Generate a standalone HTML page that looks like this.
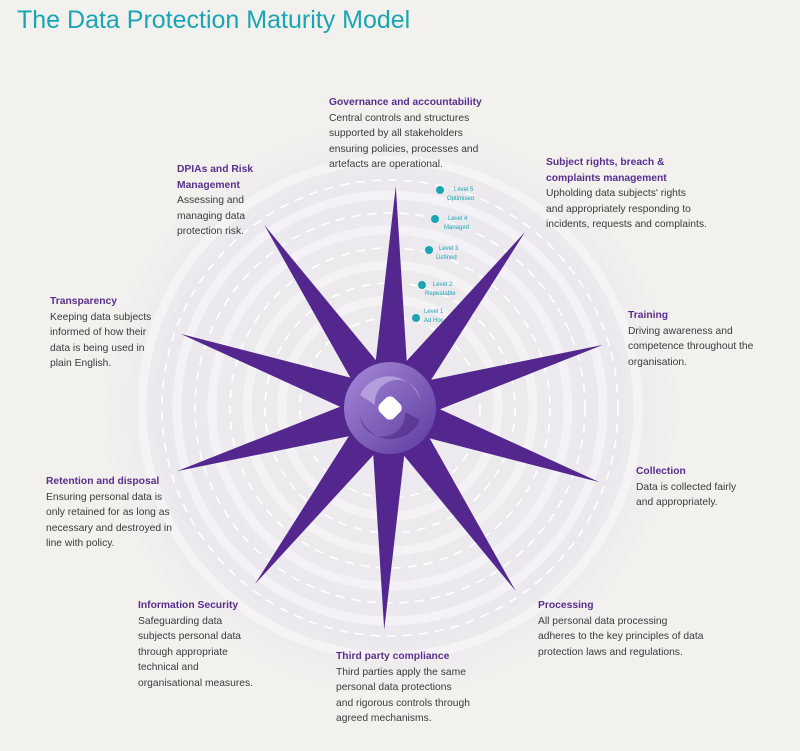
<!DOCTYPE html>
<html><head><meta charset="utf-8"><style>
body{margin:0;width:800px;height:751px;background:#f2f1ee;overflow:hidden;position:relative;font-family:"Liberation Sans",sans-serif}
h1{position:absolute;left:17px;top:6px;margin:0;font-size:25px;font-weight:normal;color:#1aa5b2;letter-spacing:0}
.t{position:absolute;font-size:10.3px;line-height:15.5px;color:#3b3b3b;white-space:nowrap}
.t b{color:#5a2e8c;display:block}
svg{position:absolute;left:0;top:0}
.lv{font-size:6px;fill:#1aa5b2}
</style></head><body>
<svg width="800" height="751" viewBox="0 0 800 751">
<defs>
<radialGradient id="g" cx="390" cy="408" r="290" gradientUnits="userSpaceOnUse">
<stop offset="0" stop-color="#eeebef"/><stop offset="0.8" stop-color="#ece9ee"/><stop offset="1" stop-color="#f2f1ee"/>
</radialGradient>
<linearGradient id="c" x1="0" y1="0" x2="1" y2="1"><stop offset="0" stop-color="#a58ad8"/><stop offset="1" stop-color="#5c3a9e"/></linearGradient>
</defs>
<circle cx="390" cy="408" r="285" fill="url(#g)"/>
<g fill="none" stroke="#f7f5f8" stroke-width="9" opacity="0.8">
<circle cx="390" cy="408" r="108"/><circle cx="390" cy="408" r="143"/><circle cx="390" cy="408" r="178"/><circle cx="390" cy="408" r="213"/><circle cx="390" cy="408" r="248"/>
</g>
<g fill="none" stroke="#ffffff" stroke-width="1.6" stroke-dasharray="9 7">
<circle cx="390" cy="408" r="90"/><circle cx="390" cy="408" r="125"/><circle cx="390" cy="408" r="160"/><circle cx="390" cy="408" r="195"/><circle cx="390" cy="408" r="228"/>
</g>
<polygon id="star" fill="#54278f"/>
<circle cx="390" cy="408" r="46" fill="url(#c)"/>
<path d="M360 395 A32 32 0 0 1 420 400 A22 22 0 0 0 375 405 Z" fill="#c3b0e6" opacity="0.7"/>
<path d="M420 420 A32 32 0 0 1 360 416 A22 22 0 0 0 405 412 Z" fill="#452080" opacity="0.5"/>
<rect x="380" y="398" width="20" height="20" rx="6" fill="#fff" transform="rotate(45 390 408)"/>
<g fill="#1aa5b2">
<circle cx="440" cy="190" r="4"/><circle cx="435" cy="219" r="4"/><circle cx="429" cy="250" r="4"/><circle cx="422" cy="285" r="4"/><circle cx="416" cy="318" r="4"/>
</g>
<g class="lv">
<text x="454" y="191">Level 5</text><text x="447" y="200">Optimised</text>
<text x="448" y="220">Level 4</text><text x="444" y="229">Managed</text>
<text x="439" y="250">Level 3</text><text x="436" y="259">Defined</text>
<text x="433" y="286">Level 2</text><text x="425" y="295">Repeatable</text>
<text x="424" y="313">Level 1</text><text x="424" y="322">Ad Hoc</text>
</g>
</svg>
<script>
(function(){var cx=390,cy=408,R=222,r=50,p=[],rot=-1.5;
for(var k=0;k<10;k++){var a=(90+rot-36*k)*Math.PI/180;p.push((cx+R*Math.cos(a)).toFixed(1)+','+(cy-R*Math.sin(a)).toFixed(1));
var b=(90+rot-18-36*k)*Math.PI/180;p.push((cx+r*Math.cos(b)).toFixed(1)+','+(cy-r*Math.sin(b)).toFixed(1));}
document.getElementById('star').setAttribute('points',p.join(' '));})();
</script>
<h1>The Data Protection Maturity Model</h1>
<div class="t" style="left:329px;top:95px"><b>Governance and accountability</b>Central controls and structures<br>supported by all stakeholders<br>ensuring policies, processes and<br>artefacts are operational.</div>
<div class="t" style="left:177px;top:162px"><b>DPIAs and Risk<br>Management</b>Assessing and<br>managing data<br>protection risk.</div>
<div class="t" style="left:546px;top:155px"><b>Subject rights, breach &amp;<br>complaints management</b>Upholding data subjects' rights<br>and appropriately responding to<br>incidents, requests and complaints.</div>
<div class="t" style="left:50px;top:294px"><b>Transparency</b>Keeping data subjects<br>informed of how their<br>data is being used in<br>plain English.</div>
<div class="t" style="left:628px;top:308px"><b>Training</b>Driving awareness and<br>competence throughout the<br>organisation.</div>
<div class="t" style="left:636px;top:464px"><b>Collection</b>Data is collected fairly<br>and appropriately.</div>
<div class="t" style="left:46px;top:474px"><b>Retention and disposal</b>Ensuring personal data is<br>only retained for as long as<br>necessary and destroyed in<br>line with policy.</div>
<div class="t" style="left:138px;top:598px"><b>Information Security</b>Safeguarding data<br>subjects personal data<br>through appropriate<br>technical and<br>organisational measures.</div>
<div class="t" style="left:538px;top:598px"><b>Processing</b>All personal data processing<br>adheres to the key principles of data<br>protection laws and regulations.</div>
<div class="t" style="left:336px;top:649px"><b>Third party compliance</b>Third parties apply the same<br>personal data protections<br>and rigorous controls through<br>agreed mechanisms.</div>
</body></html>
